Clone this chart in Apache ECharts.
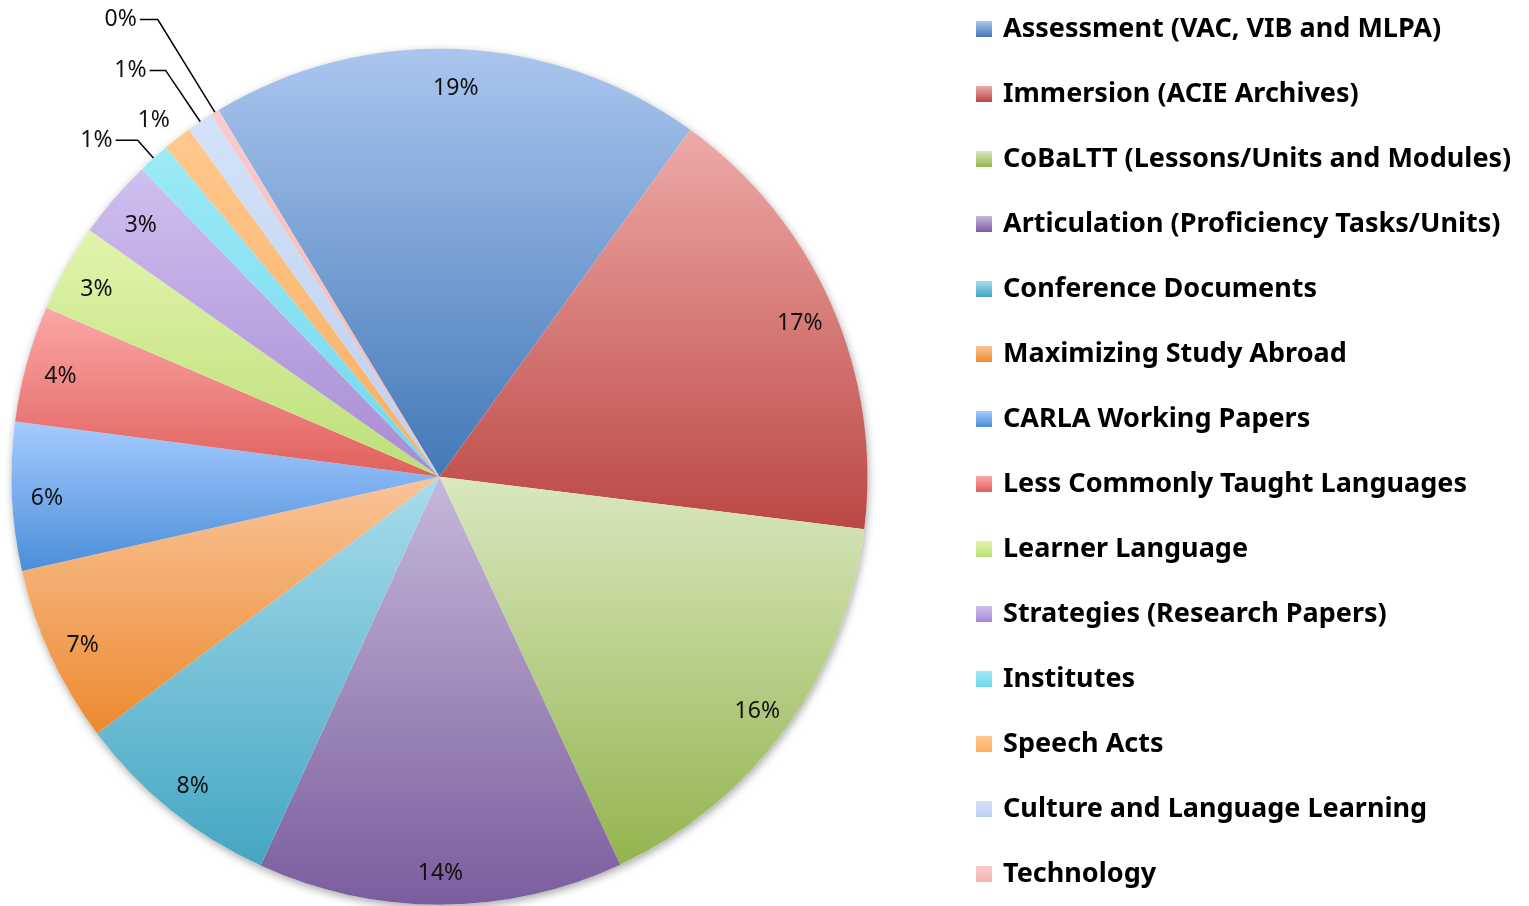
<!DOCTYPE html>
<html>
<head>
<meta charset="utf-8">
<script src="https://cdn.jsdelivr.net/npm/echarts@6/dist/echarts.min.js"></script>
<style>
  html, body { margin: 0; padding: 0; background: #fff; }
  #chart { width: 1529px; height: 906px; }
</style>
</head>
<body>
<div id="chart"></div>
<script>
const categories = [
  'Assessment (VAC, VIB and MLPA)',
  'Immersion (ACIE Archives)',
  'CoBaLTT (Lessons/Units and Modules)',
  'Articulation (Proficiency Tasks/Units)',
  'Conference Documents',
  'Maximizing Study Abroad',
  'CARLA Working Papers',
  'Less Commonly Taught Languages',
  'Learner Language',
  'Strategies (Research Papers)',
  'Institutes',
  'Speech Acts',
  'Culture and Language Learning',
  'Technology'
]
const shares = [18.6, 17.0, 16.1, 13.8, 7.9, 6.7, 5.6, 4.4, 3.3, 3.0, 1.2, 1.1, 1.0, 0.3]

// slice colours, top of gradient -> bottom of gradient
const lightColors = ['#aac6ee', '#eeaaa8', '#d9e8bf', '#c6b8da', '#a8dcec', '#fac49a', '#a6cbff',
  '#fba8a6', '#e2f4ac', '#d0bff0', '#9ceaf7', '#ffc98e', '#d3e2f8', '#f9cccc']
const darkColors = ['#4378b8', '#bb4744', '#94b44e', '#7a5d9e', '#44a6c2', '#ec8a2e', '#4a8ed9',
  '#e0605c', '#bbdf78', '#a78bd2', '#72d7ec', '#f9ad62', '#bcd0f0', '#f2b5b5']

// leader lines for the thin slices: [radial length, horizontal length, show line, gap to text]
const leaders = {
  'Institutes': [24, 22, true, 3],
  'Speech Acts': [22, 0, false, -6],
  'Culture and Language Learning': [62, 16, true, 3],
  'Technology': [109, 18, true, 3]
}

const center = [439.5, 476.7]
const R = 428
const startAngle = 121.1

const grad = (i) => new echarts.graphic.LinearGradient(0, 0, 0, 1, [
  { offset: 0, color: lightColors[i] },
  { offset: 1, color: darkColors[i] }
])

const labelFont = { fontFamily: 'Noto Sans', fontSize: 23, color: '#111' }

const myChart = echarts.init(document.getElementById('chart'))
myChart.setOption({
  backgroundColor: '#fff',
  animation: false,
  legend: {
    data: categories,
    orient: 'vertical',
    left: 976,
    top: 14,
    padding: 0,
    icon: 'rect',
    itemWidth: 16,
    itemHeight: 16,
    itemGap: 35,
    selectedMode: false,
    textStyle: {
      fontFamily: 'Noto Sans',
      fontWeight: 'bold',
      fontSize: 27,
      lineHeight: 30,
      color: '#000',
      padding: [0, 0, 0, 6]
    }
  },
  series: [
    {
      // soft shadow under the whole pie
      type: 'pie',
      silent: true,
      center, radius: R,
      z: 1,
      label: { show: false },
      labelLine: { show: false },
      itemStyle: {
        color: '#fff',
        shadowBlur: 8,
        shadowOffsetX: 1,
        shadowOffsetY: 3,
        shadowColor: 'rgba(0,0,0,0.35)'
      },
      data: [{ value: 1, name: 'shadow' }]
    },
    {
      type: 'pie',
      center, radius: R,
      startAngle,
      clockwise: true,
      z: 2,
      percentPrecision: 0,
      avoidLabelOverlap: false,
      itemStyle: { borderWidth: 0 },
      emphasis: { disabled: true },
      data: categories.map((name, i) => {
        const ld = leaders[name]
        return {
          name, value: shares[i],
          itemStyle: { color: grad(i) },
          label: ld ? {
            show: true, position: 'outside', formatter: '{d}%',
            distanceToLabelLine: ld[3],
            padding: [0, 0, 12, 0],
            ...labelFont
          } : { show: false },
          labelLine: ld ? {
            show: ld[2], length: ld[0], length2: ld[1],
            lineStyle: { color: '#000', width: 1.5 }
          } : { show: false }
        }
      })
    },
    {
      // ring carrying the inside labels near the rim
      type: 'pie',
      center, radius: [352, R],
      startAngle,
      clockwise: true,
      z: 3,
      silent: true,
      percentPrecision: 0,
      itemStyle: { color: 'rgba(0,0,0,0)', borderWidth: 0 },
      labelLine: { show: false },
      data: categories.map((name, i) => ({
        name, value: shares[i],
        label: leaders[name] ? { show: false } : {
          show: true, position: 'inside', formatter: '{d}%', offset: [0, 4], ...labelFont
        }
      }))
    }
  ]
})
</script>
</body>
</html>
